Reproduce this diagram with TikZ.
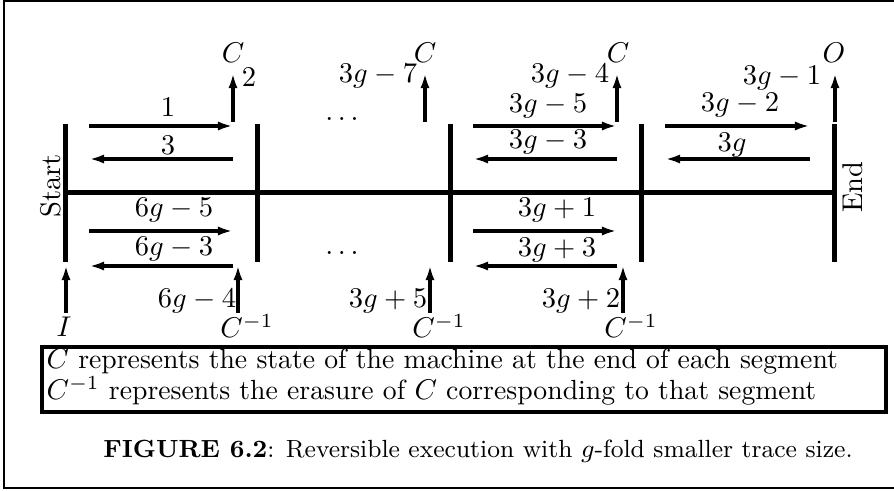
\documentclass[tikz,border=0pt]{standalone}
\usetikzlibrary{arrows.meta}
\tikzset{
  bar/.style={line width=1.75pt},
  arr/.style={line width=1.1pt,-{Latex[length=5.3pt,width=3.2pt]}},
  lbl/.style={anchor=base,inner sep=0pt},
  frame/.style={line width=0.7pt},
  legend/.style={line width=1.1pt},
  legtext/.style={anchor=base west,inner sep=0pt,font=\fontsize{9.7}{11.6}\selectfont},
  captext/.style={anchor=base,inner sep=0pt,font=\fontsize{8.7}{10.4}\selectfont},
}
\begin{document}
\begin{tikzpicture}[x=0.35pt,y=-0.35pt]
\useasboundingbox (0,0) rectangle (894,491);
% outer frame
\draw[frame] (4.3,1) rectangle (898,488.3);
% bars
\foreach \n/\x in {b1/65.5,b2/257.5,b3/450,b4/641.5,b5/834.5}{
  \coordinate (\n t) at (\x,124);
  \coordinate (\n b) at (\x,262);
  \draw[bar] (\n t) -- (\n b);
}
\coordinate (ml) at (63,193);
\coordinate (mr) at (837,193);
\draw[bar] (ml) -- (mr);
\node[rotate=90] (start) at (51,186) {Start};
\node[rotate=90] (end) at (853,187) {End};
% horizontal arrows
\foreach \n/\xa/\xb in {s1/89/233,s3/473/617,s4/665/810}{
  \coordinate (\n ua) at (\xa,126); \coordinate (\n ub) at (\xb,126);
  \coordinate (\n va) at (\xa,159); \coordinate (\n vb) at (\xb,159);
  \draw[arr] (\n ua) -- (\n ub);
  \draw[arr] (\n vb) -- (\n va);
}
\foreach \n/\xa/\xb in {s1/89/233,s3/473/617}{
  \coordinate (\n la) at (\xa,231); \coordinate (\n lb) at (\xb,231);
  \coordinate (\n ma) at (\xa,266); \coordinate (\n mb) at (\xb,266);
  \draw[arr] (\n la) -- (\n lb);
  \draw[arr] (\n mb) -- (\n ma);
}
% vertical arrows
\foreach \n/\x in {u1/233,u2/425,u3/617,u4/835}{
  \coordinate (\n a) at (\x,122); \coordinate (\n b) at (\x,73);
  \draw[arr] (\n a) -- (\n b);
}
\foreach \n/\x in {d1/66,d2/238,d3/430,d4/623}{
  \coordinate (\n a) at (\x,313); \coordinate (\n b) at (\x,265);
  \draw[arr] (\n a) -- (\n b);
}
% upper labels
\node[lbl] (l1) at (168,117) {$1$};
\node[lbl] (l3) at (168,155) {$3$};
\node[lbl] (l2) at (249,87) {$2$};
\node[lbl] (c1) at (233,63) {$C$};
\node[lbl] (dotsu) at (342,121) {$\dots$};
\node[lbl] (l37) at (378,83) {$3g-7$};
\node[lbl] (c2) at (425,63) {$C$};
\node[lbl] (l35) at (548,113) {$3g-5$};
\node[lbl] (l33) at (548,149) {$3g-3$};
\node[lbl] (l34) at (570,83) {$3g-4$};
\node[lbl] (c3) at (618,63) {$C$};
\node[lbl] (l32) at (740,112) {$3g-2$};
\node[lbl] (l3g) at (732,152) {$3g$};
\node[lbl] (l31) at (782,85) {$3g-1$};
\node[lbl] (o) at (834,63) {$O$};
% lower labels
\node[lbl] (l65) at (174,217) {$6g-5$};
\node[lbl] (l63) at (174,256) {$6g-3$};
\node[lbl] (l64) at (197,308) {$6g-4$};
\node[lbl] (i) at (64,337) {$I$};
\node[lbl] (ci1) at (247,338) {$C^{-1}$};
\node[lbl] (dotsl) at (342,255) {$\dots$};
\node[lbl] (l35p) at (388,308) {$3g+5$};
\node[lbl] (ci2) at (439,338) {$C^{-1}$};
\node[lbl] (l31p) at (557,217) {$3g+1$};
\node[lbl] (l33p) at (557,257) {$3g+3$};
\node[lbl] (l32p) at (581,308) {$3g+2$};
\node[lbl] (ci3) at (631,338) {$C^{-1}$};
% legend
\draw[legend] (42,347) rectangle (886,412);
\node[legtext] (leg1) at (46,369) {$C$ represents the state of the machine at the end of each segment};
\node[legtext] (leg2) at (46,400) {$C^{-1}$ represents the erasure of $C$ corresponding to that segment};
\node[captext] (cap) at (478,458) {\textbf{FIGURE 6.2}: Reversible execution with $g$-fold smaller trace size.};
\end{tikzpicture}
\end{document}
